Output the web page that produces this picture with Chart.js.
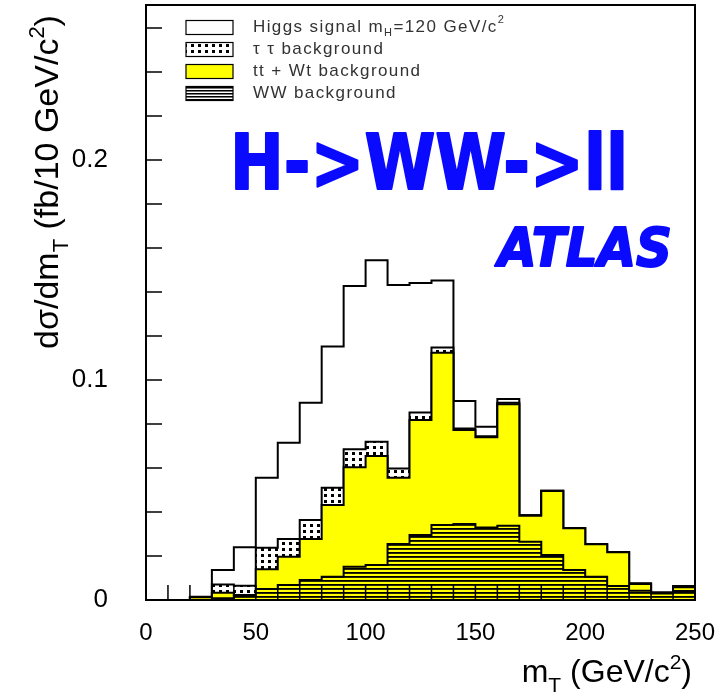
<!DOCTYPE html>
<html>
<head>
<meta charset="utf-8">
<script src="https://cdn.jsdelivr.net/npm/chart.js@4.4.0/dist/chart.umd.min.js"></script>
<style>
  html, body { margin: 0; padding: 0; background: #fff; }
</style>
</head>
<body>
<canvas id="mtChart" width="728" height="700"></canvas>
<script>
// lower edges of the 10 GeV bins, plus the last upper edge
const binLow = [0, 10, 20, 30, 40, 50, 60, 70, 80, 90, 100, 110, 120, 130, 140, 150, 160, 170, 180, 190, 200, 210, 220, 230, 240];
const binHigh = 250;

// contributions per bin (fb / 10 GeV), stacked bottom to top
const wwBkg =     [0, 0, 0.0012, 0.0008, 0.0018, 0.0050, 0.0068, 0.0091, 0.0106, 0.0151, 0.0159, 0.0255, 0.0295, 0.0341, 0.0345, 0.0330, 0.0338, 0.0265, 0.0205, 0.0136, 0.0106, 0.0064, 0.0042, 0.0030, 0.0041];
const ttBkg =     [0, 0, 0, 0.0025, 0.0005, 0.0090, 0.0129, 0.0186, 0.0326, 0.0452, 0.0496, 0.0301, 0.0523, 0.0783, 0.0428, 0.0410, 0.0552, 0.0118, 0.0290, 0.0190, 0.0147, 0.0153, 0.0031, 0, 0.0017];
const tautauBkg = [0, 0, 0, 0.0038, 0.0042, 0.0098, 0.0080, 0.0087, 0.0078, 0.0082, 0.0065, 0.0042, 0.0034, 0.0024, 0.0007, 0.0005, 0.0007, 0.0002, 0.0002, 0.0001, 0.0001, 0.0001, 0.0001, 0, 0.0001];
const higgsSig =  [0, 0, 0.0003, 0.0065, 0.0175, 0.0318, 0.0438, 0.0533, 0.0642, 0.0742, 0.0825, 0.0834, 0.0589, 0.0304, 0.0125, 0.0043, 0.0017, 0, 0, 0, 0, 0, 0.0002, 0.0005, 0.0005];

const xTickLabels = [0, 50, 100, 150, 200, 250];
const yTickLabels = [0, 0.1, 0.2];

const FONT = '"Liberation Sans", Arial, sans-serif';
const YELLOW = '#ffff00';

function makePattern(w, h, paint) {
  const c = document.createElement('canvas');
  c.width = w; c.height = h;
  const g = c.getContext('2d');
  paint(g);
  return g.createPattern(c, 'repeat');
}

// dotted fill for tau tau, lined fill for WW (yellow shows through)
const dotFill = makePattern(7, 6, g => {
  g.fillStyle = '#fff'; g.fillRect(0, 0, 7, 6);
  g.fillStyle = '#000'; g.fillRect(2, 2, 3, 3);
});
const wwFill = makePattern(1, 4, g => {
  g.fillStyle = YELLOW; g.fillRect(0, 0, 1, 4);
  g.fillStyle = '#000'; g.fillRect(0, 0, 1, 1);
  g.fillStyle = '#2a2a00'; g.fillRect(0, 1, 1, 1);
});
const wwLegendFill = makePattern(1, 3, g => {
  g.fillStyle = '#fff'; g.fillRect(0, 0, 1, 3);
  g.fillStyle = '#000'; g.fillRect(0, 0, 1, 1);
  g.fillStyle = '#777'; g.fillRect(0, 1, 1, 1);
});

// histogram points at the bin edges, last value carried to the upper edge
function steps(vals) {
  const pts = binLow.map((x, i) => ({ x: x, y: vals[i] }));
  pts.push({ x: binHigh, y: vals[vals.length - 1] });
  return pts;
}

function near(a, b) { return Math.abs(a - b) < 1e-6; }

// draws text with sub/superscript pieces, returns width
function richText(ctx, parts, x, y, size, draw) {
  let cx = x;
  parts.forEach(p => {
    const kind = p[1] || '';
    const fs = kind ? Math.round(size * 0.66) : size;
    const dy = kind === 'sub' ? size * 0.3 : kind === 'sup' ? -size * 0.42 : 0;
    ctx.font = fs + 'px ' + FONT;
    if (draw) ctx.fillText(p[0], cx, y + dy);
    cx += ctx.measureText(p[0]).width;
  });
  return cx - x;
}

const decor = {
  id: 'decor',
  afterDraw(chart) {
    const ctx = chart.ctx;
    const a = chart.chartArea;
    const xs = chart.scales.x, ys = chart.scales.y;
    ctx.save();

    // frame and inward ticks
    ctx.strokeStyle = '#000';
    ctx.lineWidth = 2;
    ctx.strokeRect(a.left, a.top, a.right - a.left, a.bottom - a.top);
    ctx.lineWidth = 1.5;
    ctx.beginPath();
    xs.ticks.forEach(t => {
      const px = xs.getPixelForValue(t.value);
      ctx.moveTo(px, a.bottom); ctx.lineTo(px, a.bottom - 15);
    });
    ys.ticks.forEach(t => {
      const py = ys.getPixelForValue(t.value);
      ctx.moveTo(a.left, py); ctx.lineTo(a.left + 16, py);
    });
    ctx.stroke();

    // legend
    const rows = [27.5, 49.5, 71.5, 93.5];
    const fills = ['#fff', dotFill, YELLOW, wwLegendFill];
    ctx.lineWidth = 1.2;
    rows.forEach((ry, i) => {
      ctx.fillStyle = fills[i];
      ctx.fillRect(186, ry - 7, 47, 14);
      ctx.strokeRect(186, ry - 7, 47, 14);
    });
    ctx.fillStyle = '#333';
    ctx.textBaseline = 'middle';
    ctx.textAlign = 'left';
    ctx.letterSpacing = '1.4px';
    const legendText = [
      [['Higgs signal m'], ['H', 'sub'], ['=120 GeV/c'], ['2', 'sup']],
      [['\u03c4 \u03c4 background']],
      [['tt + Wt background']],
      [['WW background']]
    ];
    legendText.forEach((parts, i) => richText(ctx, parts, 253, rows[i], 17, true));
    ctx.letterSpacing = '0px';

    // axis titles
    ctx.fillStyle = '#000';
    ctx.textBaseline = 'alphabetic';
    const xTitle = [['m'], ['T', 'sub'], [' (GeV/c'], ['2', 'sup'], [')']];
    const xw = richText(ctx, xTitle, 0, 0, 32, false);
    richText(ctx, xTitle, 692 - xw, 682, 32, true);

    const yTitle = [['d\u03c3/dm'], ['T', 'sub'], [' (fb/10 GeV/c'], ['2', 'sup'], [')']];
    const yw = richText(ctx, yTitle, 0, 0, 34, false);
    ctx.save();
    ctx.translate(58, 182);
    ctx.rotate(-Math.PI / 2);
    richText(ctx, yTitle, -yw / 2, 0, 34, true);
    ctx.restore();

    // big blue labels
    ctx.fillStyle = '#0a0aff';
    ctx.strokeStyle = '#0a0aff';
    ctx.lineJoin = 'round';
    ctx.lineWidth = 2;
    ctx.font = 'bold 76px "DejaVu Sans", sans-serif';
    ctx.fillText('H->WW->ll', 230, 189, 398);
    ctx.strokeText('H->WW->ll', 230, 189, 398);
    ctx.font = 'italic bold 53px "DejaVu Sans", sans-serif';
    ctx.fillText('ATLAS', 498, 266, 174);
    ctx.strokeText('ATLAS', 498, 266, 174);

    ctx.restore();
  }
};

const common = { borderColor: '#000', borderWidth: 2, stepped: 'before', pointRadius: 0 };

new Chart(document.getElementById('mtChart').getContext('2d'), {
  type: 'line',
  data: {
    datasets: [
      Object.assign({ label: 'WW background', data: steps(wwBkg), backgroundColor: wwFill, fill: 'origin' }, common),
      Object.assign({ label: 'tt + Wt background', data: steps(ttBkg), backgroundColor: YELLOW, fill: '-1' }, common),
      Object.assign({ label: '\u03c4 \u03c4 background', data: steps(tautauBkg), backgroundColor: dotFill, fill: '-1' }, common),
      Object.assign({ label: 'Higgs signal', data: steps(higgsSig), fill: false }, common)
    ]
  },
  options: {
    responsive: false,
    animation: false,
    devicePixelRatio: 1,
    layout: { padding: { top: 5, right: 33, left: 0, bottom: 0 } },
    plugins: { legend: { display: false }, tooltip: { enabled: false } },
    scales: {
      x: {
        type: 'linear', min: 0, max: binHigh,
        border: { display: false },
        grid: { display: false, drawTicks: false },
        ticks: {
          stepSize: 10, autoSkip: false, maxRotation: 0, padding: 19, color: '#000',
          font: { family: FONT, size: 24 },
          callback: v => xTickLabels.some(t => near(t, v)) ? String(v) : ''
        },
        afterFit(s) { s.height = 100; s.paddingLeft = 0; s.paddingRight = 0; }
      },
      y: {
        type: 'linear', stacked: true, min: 0, max: 0.2705,
        border: { display: false },
        grid: { display: false, drawTicks: false },
        ticks: {
          stepSize: 0.02, includeBounds: false, autoSkip: false, padding: 38, color: '#000',
          font: { family: FONT, size: 26 },
          callback: v => {
            const t = yTickLabels.find(l => near(l, v));
            return t === undefined ? '' : String(t);
          }
        },
        afterBuildTicks(s) {
          s.ticks = s.ticks.filter(t => near(t.value / 0.02, Math.round(t.value / 0.02)));
        },
        afterFit(s) { s.width = 146; s.paddingTop = 0; s.paddingBottom = 0; }
      }
    }
  },
  plugins: [decor]
});
</script>
</body>
</html>
